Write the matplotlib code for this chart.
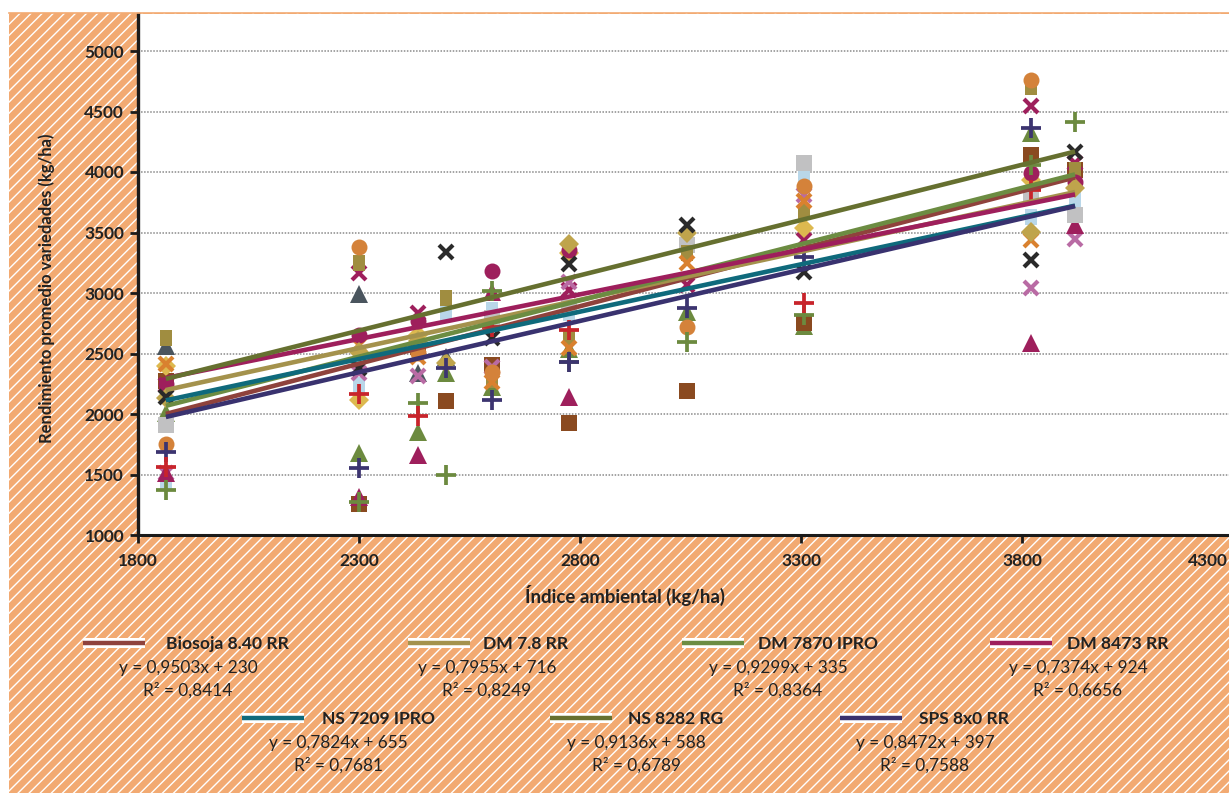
import numpy as np
import matplotlib
matplotlib.use("Agg")
import matplotlib.pyplot as plt
from matplotlib.patches import Rectangle

W, H = 1229, 793
nan = np.nan

plt.rcParams['font.family'] = ['Lato', 'DejaVu Sans']
plt.rcParams['hatch.linewidth'] = 1.0

# environment index, one value per trial
env = [1863, 2300, 2433, 2497, 2601, 2775, 3042, 3307, 3820, 3920]

# yields per marker series (nan = hidden under other marks)
light_blue_sq = [1430, 2240, 2595, 2826, 2860, 2835, 3438, 3950, 3628, 3770]
yellow_diam = [2400, 2115, 2653, nan, nan, 3330, nan, 3537, 3934, nan]
green_tri = [2010, 1678, 1850, 2340, 2223, 2540, 2845, 2725, 4320, nan]
brown_sq = [2270, 1256, 2555, 2107, 2405, 1926, 2190, 2752, 4140, 4017]
slate_tri = [2560, 2992, 2340, 2470, nan, nan, nan, nan, nan, nan]
pink_x = [1510, 2339, 2316, nan, 2388, 3090, nan, 3810, 3040, 3445]
crimson_tri = [1510, 1318, 1661, nan, 3010, 2140, nan, nan, 2587, 3560]
grey_sq = [1909, nan, nan, nan, 2793, 2885, 3397, 4074, 3810, 3645]
olive_sq = [2628, 3248, nan, 2959, 2280, 2636, 3330, 3670, 4700, 4017]
orange_x = [2413, 2570, 2470, nan, 2265, 2545, 3248, 3760, 3438, nan]
orange_circ = [1752, 3380, 2503, nan, 2347, nan, 2719, 3884, 4760, nan]
crimson_circ = [2250, 2653, 2770, nan, 3182, 3355, nan, nan, 3990, 3917]
crimson_x = [2240, 3165, 2835, nan, nan, 3025, 3066, 3438, 4545, 4074]
gold_diam = [2130, 2510, 2600, 2420, nan, 3405, 3495, nan, 3504, 3868]
black_x = [2140, 2380, nan, 3339, 2628, 3240, 3562, 3175, 3273, 4165]
green_plus = [1372, 1270, 2090, 1496, 3017, 2430, 2595, 2820, 4058, 4413]
navy_plus = [1686, 1552, nan, 2380, 2115, 2428, 2876, 3295, 4365, nan]
red_plus = [1562, 2165, 1986, nan, 2720, 2694, nan, 2918, 3851, nan]

# trend lines, equations as printed in the legend
names = ['Biosoja 8.40 RR', 'DM 7.8 RR', 'DM 7870 IPRO', 'DM 8473 RR',
         'NS 7209 IPRO', 'NS 8282 RG', 'SPS 8x0 RR']
slopes = [0.9503, 0.7955, 0.9299, 0.7374, 0.7824, 0.9136, 0.8472]
intercepts = [230, 716, 335, 924, 655, 588, 397]
r2 = ['0,8414', '0,8249', '0,8364', '0,6656', '0,7681', '0,6789', '0,7588']
line_colors = ['#8F423C', '#A4924C', '#6C8C42', '#9E1F5C', '#0F6A7C', '#667030', '#39326F']

yticks = [1000, 1500, 2000, 2500, 3000, 3500, 4000, 4500, 5000]
xticks = [1800, 2300, 2800, 3300, 3800]

narrow = [(-0.72, -1), (0.72, -1), (0.72, 1), (-0.72, 1)]

fig = plt.figure(figsize=(W / 100, H / 100), dpi=100)
fig.patch.set_facecolor('white')

# hatched orange panel behind everything
panel = Rectangle((9 / W, 0), 1 - 9 / W, 1 - 13 / H, transform=fig.transFigure,
                  facecolor='#F2AA72', edgecolor='white', hatch='///', linewidth=0, zorder=-5)
fig.add_artist(panel)
fig.add_artist(plt.Line2D([9 / W, 1], [1 - 13 / H, 1 - 13 / H], color='#F2AA72', lw=1.2))

ax = fig.add_axes([138 / W, 1 - 535 / H, (W - 138) / W, (535 - 14) / H])
ax.set_facecolor('white')
ax.set_xlim(1800, 1800 + (W - 138) / 0.442)
ax.set_ylim(1000, 1000 + 521 / 0.121)

ax.set_yticks(yticks)
ax.set_xticks(xticks[1:] + [1800])
ax.set_xticklabels(['2300', '2800', '3300', '3800', '1800'])
ax.tick_params(axis='both', length=6, width=2, color='#1a1a1a', labelsize=12.4,
               labelcolor='#222222', pad=4)
for lab in ax.get_xticklabels() + ax.get_yticklabels():
    lab.set_fontweight('bold')
ax.tick_params(axis='x', pad=7)
ax.grid(axis='y', color='#8a8a8a', linestyle=(0, (1, 1)), linewidth=1.1)
ax.set_axisbelow(True)
for s in ['top', 'right']:
    ax.spines[s].set_visible(False)
ax.spines['left'].set_linewidth(2.4)
ax.spines['bottom'].set_linewidth(2.2)
ax.spines['left'].set_color('#1a1a1a')
ax.spines['bottom'].set_color('#1a1a1a')


# one marker series
def marks(vals, marker, color, ms=11.5, mew=0):
    filled = marker not in ('+', 'x')
    ax.plot(env, vals, linestyle='none', marker=marker, markersize=ms,
            markerfacecolor=color if filled else 'none', markeredgecolor=color,
            markeredgewidth=mew, clip_on=False)


marks(light_blue_sq, narrow, '#B9D7E9')
marks(green_tri, '^', '#6C8A3F', 12.5)
marks(brown_sq, 's', '#8A4A20', 11.5)
marks(slate_tri, '^', '#4A555E', 12.5)
marks(crimson_x, 'x', '#9E1F5C', 10.5, 3)
marks(pink_x, 'x', '#B96BA4', 10.5, 3)
marks(crimson_tri, '^', '#9E1F5C', 12.5)
marks(grey_sq, 's', '#C1C1C2', 11.5)
marks(olive_sq, narrow, '#A08D40')
marks(yellow_diam, 'D', '#DDB94F', 10)
marks(orange_x, 'x', '#D9812F', 10.5, 3)
marks(orange_circ, 'o', '#D4823A', 11.5)
marks(crimson_circ, 'o', '#9E1F5C', 11.5)
marks(gold_diam, 'D', '#BFA44C', 10)
marks(black_x, 'x', '#2A2A2A', 10.5, 3)
marks(green_plus, '+', '#6C8A3F', 14, 2.7)
marks(navy_plus, '+', '#3C3470', 14, 2.7)
marks(red_plus, '+', '#C8242B', 14, 2.7)

xs = np.array([env[0], env[-1]])
for a, b, c in zip(slopes, intercepts, line_colors):
    ax.plot(xs, a * xs + b, color=c, lw=3.3, solid_capstyle='butt')


# figure text placed in pixels
def ptext(x, y, s, **kw):
    kw.setdefault('ha', 'center')
    kw.setdefault('va', 'center')
    kw.setdefault('color', '#222222')
    return fig.text(x / W, 1 - y / H, s, **kw)


ptext(1208, 561, '4300', fontsize=12.4, fontweight='bold')
ptext(47, 288, 'Rendimiento promedio variedades (kg/ha)', fontsize=12,
      fontweight='bold', rotation=90)
ptext(625, 595, 'Índice ambiental (kg/ha)', fontsize=13.4, fontweight='bold')

# hand placed legend: swatch left, name centre, equation centre, row y
swatch_x = [83, 408, 682, 990, 242, 550, 840]
name_x = [227, 526, 818, 1118, 378, 676, 964]
eq_x = [188, 487, 778, 1078, 338, 636, 925]
row_y = [643, 643, 643, 643, 718, 718, 718]

for i, nm in enumerate(names):
    y0 = row_y[i]
    for lw, col in [(7.2, 'white'), (3.2, line_colors[i])]:
        fig.add_artist(plt.Line2D([swatch_x[i] / W, (swatch_x[i] + 62) / W],
                                  [1 - y0 / H, 1 - y0 / H], color=col, lw=lw,
                                  solid_capstyle='butt'))
    ptext(name_x[i], y0 + 1, nm, fontsize=12.6, fontweight='bold')
    ptext(eq_x[i], y0 + 25, 'y = %sx + %d' % (('%.4f' % slopes[i]).replace('.', ','), intercepts[i]),
          fontsize=12.4)
    ptext(eq_x[i], y0 + 47, 'R² = ' + r2[i], fontsize=12.4)

fig.savefig('out.png', dpi=100, facecolor='white')
